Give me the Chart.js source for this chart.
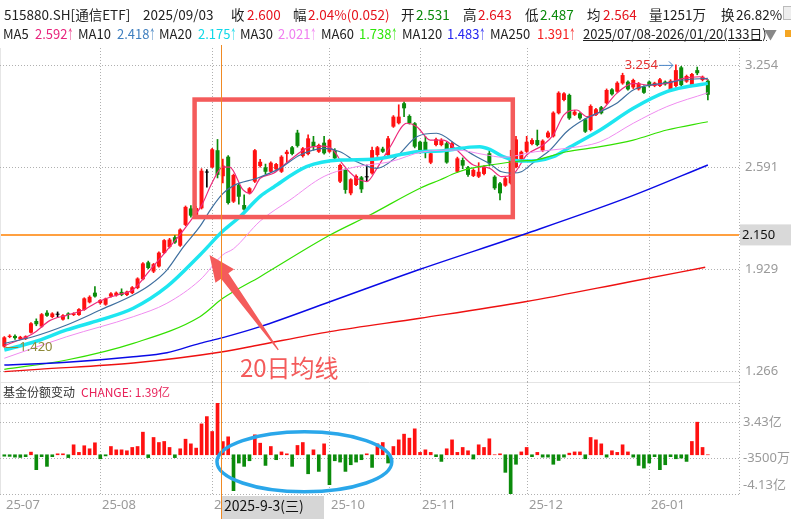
<!DOCTYPE html>
<html>
<head>
<meta charset="utf-8">
<script src="https://cdn.jsdelivr.net/npm/chart.js@4.4.0/dist/chart.umd.min.js"></script>
<style>
  body { margin: 0; background: #fff; }
  #wrap { position: relative; width: 791px; height: 519px; overflow: hidden; font-family: "Noto Sans CJK SC", "Noto Sans", sans-serif; }
  canvas { position: absolute; left: 0; }
  .t { position: absolute; white-space: nowrap; font-size: 13.5px; line-height: 18px; color: #222; z-index: 2; }
  .r2 { font-size: 13px; }
  .red { color: #e6141e; }
  .grn { color: #0a8a0a; }
  .ar { display: inline-block; width: 6px; transform: scaleX(0.5); transform-origin: left center; }
</style>
</head>
<body>
<div id="wrap">
  <canvas id="price" width="791" height="382" style="top:0"></canvas>
  <canvas id="flow" width="791" height="137" style="top:382px"></canvas>

  <!-- header row 1 -->
  <div class="t" style="left:4px;top:5px">515880.SH[通信ETF]</div>
  <div class="t" style="left:143px;top:5px">2025/09/03</div>
  <div class="t" style="left:231px;top:5px">收</div><div class="t red" style="left:247px;top:5px">2.600</div>
  <div class="t" style="left:293px;top:5px">幅</div><div class="t red" style="left:308px;top:5px">2.04%(0.052)</div>
  <div class="t" style="left:401px;top:5px">开</div><div class="t grn" style="left:416px;top:5px">2.531</div>
  <div class="t" style="left:463px;top:5px">高</div><div class="t red" style="left:478px;top:5px">2.643</div>
  <div class="t" style="left:525px;top:5px">低</div><div class="t grn" style="left:540px;top:5px">2.487</div>
  <div class="t" style="left:587px;top:5px">均</div><div class="t red" style="left:603px;top:5px">2.564</div>
  <div class="t" style="left:649px;top:5px">量1251万</div>
  <div class="t" style="left:721px;top:5px">换</div><div class="t" style="left:736px;top:5px">26.82%</div>
  <div style="position:absolute;left:783px;top:6px;width:8px;height:12px;border:1px solid #bbb;background:#eee;z-index:2"></div>

  <!-- header row 2 -->
  <div class="t r2" style="left:3px;top:25px">MA5</div><div class="t r2" style="left:35px;top:25px;color:#e8257d">2.592<span class="ar">↑</span></div>
  <div class="t r2" style="left:78px;top:25px">MA10</div><div class="t r2" style="left:117px;top:25px;color:#3f7fbf">2.418<span class="ar">↑</span></div>
  <div class="t r2" style="left:159px;top:25px">MA20</div><div class="t r2" style="left:198px;top:25px;color:#10d8e8">2.175<span class="ar">↑</span></div>
  <div class="t r2" style="left:240px;top:25px">MA30</div><div class="t r2" style="left:278px;top:25px;color:#f07ef0">2.021<span class="ar">↑</span></div>
  <div class="t r2" style="left:321px;top:25px">MA60</div><div class="t r2" style="left:359px;top:25px;color:#2ee60a">1.738<span class="ar">↑</span></div>
  <div class="t r2" style="left:402px;top:25px">MA120</div><div class="t r2" style="left:447px;top:25px;color:#2525f0">1.483<span class="ar">↑</span></div>
  <div class="t r2" style="left:490px;top:25px">MA250</div><div class="t r2" style="left:537px;top:25px;color:#f52020">1.391<span class="ar">↑</span></div>
  <div class="t r2" style="left:583px;top:25px;text-decoration:underline">2025/07/08-2026/01/20(133日)</div>
  <div class="t r2" style="left:764px;top:25px;color:#888">▼</div>
  <div style="position:absolute;left:785px;top:30px;width:6px;height:7px;background:#f5a623;z-index:2"></div>

  <!-- lower panel title -->
  <div class="t" style="left:3px;top:384px;font-size:12px;line-height:16px;color:#333">基金份额变动</div>
  <div class="t" style="left:81px;top:384px;font-size:12px;line-height:16px;color:#e8225a">CHANGE: 1.39亿</div>
</div>

<script>
// ---- daily candles, 2025-07-08 .. 2026-01-20 (133 trading days) ----
const open = [
  1.425, 1.487, 1.494, 1.474, 1.474, 1.515, 1.591, 1.555, 1.645, 1.617,
  1.632, 1.600, 1.640, 1.630, 1.630, 1.663, 1.712, 1.775, 1.707, 1.697,
  1.750, 1.757, 1.780, 1.760, 1.772, 1.805, 1.862, 1.972, 1.912, 1.945,
  2.032, 2.072, 2.135, 2.080, 2.215, 2.322, 2.280, 2.323, 2.555, 2.589,
  2.700, 2.531, 2.658, 2.366, 2.474, 2.344, 2.420, 2.496, 2.597, 2.589,
  2.560, 2.576, 2.560, 2.675, 2.719, 2.814, 2.662, 2.675, 2.755, 2.690,
  2.749, 2.690, 2.701, 2.496, 2.572, 2.420, 2.474, 2.524, 2.524, 2.550,
  2.669, 2.710, 2.669, 2.853, 2.875, 3.005, 2.922, 2.875, 2.755, 2.755,
  2.619, 2.734, 2.734, 2.745, 2.712, 2.560, 2.636, 2.589, 2.533, 2.528,
  2.546, 2.680, 2.528, 2.485, 2.470, 2.485, 2.590, 2.641, 2.690, 2.740,
  2.766, 2.697, 2.784, 2.790, 2.940, 3.026, 3.059, 2.930, 2.940, 2.901,
  2.831, 2.929, 2.979, 3.005, 3.095, 3.080, 3.134, 3.145, 3.108, 3.095,
  3.112, 3.145, 3.117, 3.117, 3.145, 3.095, 3.117, 3.238, 3.145, 3.117,
  3.220, 3.156, 3.151
];
const high = [
  1.490, 1.502, 1.502, 1.492, 1.495, 1.580, 1.605, 1.640, 1.658, 1.645,
  1.650, 1.632, 1.645, 1.645, 1.672, 1.742, 1.755, 1.815, 1.730, 1.740,
  1.775, 1.780, 1.800, 1.786, 1.815, 1.872, 1.970, 1.980, 1.965, 2.040,
  2.120, 2.128, 2.145, 2.190, 2.338, 2.340, 2.335, 2.580, 2.575, 2.712,
  2.770, 2.643, 2.665, 2.545, 2.480, 2.410, 2.458, 2.705, 2.640, 2.610,
  2.625, 2.615, 2.665, 2.700, 2.725, 2.830, 2.718, 2.800, 2.790, 2.740,
  2.790, 2.770, 2.710, 2.610, 2.580, 2.515, 2.540, 2.530, 2.604, 2.720,
  2.725, 2.720, 2.790, 2.925, 2.995, 3.015, 2.930, 2.880, 2.760, 2.790,
  2.690, 2.778, 2.775, 2.752, 2.752, 2.655, 2.650, 2.595, 2.580, 2.619,
  2.600, 2.695, 2.535, 2.492, 2.525, 2.700, 2.790, 2.695, 2.790, 2.775,
  2.831, 2.768, 2.825, 2.950, 3.080, 3.075, 3.065, 2.960, 2.945, 2.905,
  2.995, 2.972, 2.985, 3.098, 3.100, 3.145, 3.200, 3.150, 3.162, 3.140,
  3.118, 3.150, 3.142, 3.166, 3.150, 3.158, 3.254, 3.245, 3.188, 3.200,
  3.240, 3.182, 3.158
];
const low = [
  1.420, 1.482, 1.472, 1.470, 1.470, 1.512, 1.560, 1.550, 1.620, 1.612,
  1.615, 1.596, 1.605, 1.626, 1.628, 1.660, 1.708, 1.745, 1.700, 1.693,
  1.745, 1.752, 1.755, 1.756, 1.768, 1.800, 1.858, 1.930, 1.905, 1.940,
  2.028, 2.065, 2.095, 2.075, 2.210, 2.265, 2.270, 2.318, 2.460, 2.585,
  2.520, 2.487, 2.350, 2.360, 2.350, 2.310, 2.415, 2.490, 2.590, 2.545,
  2.555, 2.570, 2.555, 2.620, 2.670, 2.720, 2.655, 2.670, 2.700, 2.685,
  2.675, 2.685, 2.640, 2.490, 2.420, 2.410, 2.470, 2.425, 2.500, 2.545,
  2.660, 2.685, 2.660, 2.848, 2.870, 2.918, 2.870, 2.715, 2.680, 2.650,
  2.612, 2.728, 2.728, 2.615, 2.705, 2.555, 2.580, 2.530, 2.528, 2.522,
  2.540, 2.598, 2.445, 2.377, 2.465, 2.480, 2.585, 2.636, 2.685, 2.735,
  2.728, 2.690, 2.780, 2.785, 2.935, 3.020, 2.900, 2.925, 2.900, 2.815,
  2.825, 2.925, 2.935, 3.000, 3.058, 3.075, 3.128, 3.090, 3.100, 3.090,
  3.068, 3.110, 3.112, 3.112, 3.122, 3.090, 3.110, 3.118, 3.140, 3.112,
  3.190, 3.150, 3.026
];
const close = [
  1.485, 1.495, 1.480, 1.488, 1.492, 1.576, 1.570, 1.635, 1.625, 1.640,
  1.632, 1.628, 1.630, 1.640, 1.668, 1.738, 1.748, 1.750, 1.727, 1.737,
  1.770, 1.775, 1.760, 1.782, 1.810, 1.867, 1.965, 1.935, 1.960, 2.035,
  2.116, 2.120, 2.100, 2.185, 2.332, 2.275, 2.325, 2.567, 2.555, 2.706,
  2.540, 2.600, 2.357, 2.539, 2.398, 2.315, 2.453, 2.700, 2.625, 2.560,
  2.619, 2.610, 2.658, 2.690, 2.676, 2.728, 2.712, 2.777, 2.723, 2.734,
  2.680, 2.766, 2.647, 2.604, 2.442, 2.511, 2.533, 2.446, 2.524, 2.701,
  2.719, 2.690, 2.777, 2.918, 2.918, 2.972, 2.876, 2.723, 2.690, 2.701,
  2.680, 2.771, 2.766, 2.620, 2.745, 2.647, 2.600, 2.540, 2.572, 2.560,
  2.593, 2.615, 2.453, 2.420, 2.518, 2.636, 2.770, 2.690, 2.755, 2.766,
  2.734, 2.762, 2.815, 2.944, 3.073, 3.069, 2.907, 2.950, 2.907, 2.820,
  2.987, 2.966, 2.940, 3.091, 3.063, 3.138, 3.188, 3.095, 3.156, 3.134,
  3.073, 3.117, 3.138, 3.160, 3.128, 3.151, 3.220, 3.123, 3.182, 3.195,
  3.200, 3.177, 3.060
];

// fund share change, 亿
const flow = [
  -0.15, -0.17, -0.25, -0.28, -0.20, 0.28, -1.57, -0.20, -1.22, -0.20,
  0.10, 0.10, -0.30, 1.05, 0.25, 0.95, 0.63, 1.26, -0.42, -0.12,
  0.87, 0.52, 0.52, 0.42, 0.77, 0.87, 2.38, -0.30, 1.82, 1.29,
  1.40, 0.77, -0.30, 0.63, 1.64, 1.15, 0.70, 3.25, 4.02, 2.45,
  5.45, 1.39, 1.89, -3.78, -0.87, -1.22, -0.63, 2.10, 1.22, -1.12,
  0.87, -0.52, 0.30, 0.10, -1.22, 0.98, 1.29, -2.00, 0.52, -1.75,
  1.15, -3.15, -0.63, -0.77, -1.75, -1.05, -0.77, -0.52, 0.10, -1.33,
  1.15, 1.29, -0.87, 0.87, 1.57, 2.17, 1.75, 2.73, 0.25, 0.52,
  0.25, -0.20, -0.70, 0.63, 1.57, 0.25, 0.77, 0.42, -0.45, 1.05,
  0.77, 1.68, 0.00, 0.10, -1.85, -4.13, -1.00, 0.30, 0.77, -0.20,
  0.25, -0.25, -0.25, -1.00, -0.60, -0.25, 0.17, 0.30, 0.30, -0.42,
  1.82, 1.57, 1.15, -0.25, 0.42, 0.25, 1.05, 0.30, -0.25, -1.12,
  -1.40, -0.87, -0.20, -1.57, -1.05, -0.20, -0.42, -0.35, -0.70, 1.40,
  3.43, 0.77, 0.00
];

// moving averages (day index, value)
const ma5X = [0, 5.4, 8.6, 11.7, 14.8, 18, 21.1, 24.2, 27.3, 30.5, 33.6, 35, 37, 39, 41, 42.3, 44.8, 46.1, 48, 50.5, 53.6, 56.7, 59.9, 61.7, 63.6, 66.1, 68, 69.9, 72.4, 75.5, 77.4, 79.9, 82.4, 84.9, 88, 91.1, 93.3, 95.5, 98, 101.1, 103, 105, 107.4, 109.3, 111.8, 114.9, 118, 121.1, 124.3, 127.4, 130.5, 132];
const ma5Y = [1.430, 1.510, 1.595, 1.628, 1.662, 1.722, 1.760, 1.795, 1.920, 2.050, 2.180, 2.245, 2.340, 2.490, 2.592, 2.590, 2.442, 2.420, 2.518, 2.550, 2.636, 2.712, 2.727, 2.701, 2.604, 2.518, 2.496, 2.582, 2.723, 2.875, 2.853, 2.766, 2.766, 2.701, 2.604, 2.582, 2.528, 2.545, 2.669, 2.734, 2.800, 2.930, 2.961, 2.918, 2.950, 3.069, 3.134, 3.123, 3.134, 3.167, 3.177, 3.156];
const ma10X = [0, 5.4, 11.7, 18, 24.2, 27.3, 30.5, 33.6, 36.7, 39, 41, 43, 47.4, 51.7, 55.5, 59.9, 63, 66.1, 69.9, 73.6, 77.4, 81.1, 84.9, 88.6, 91.1, 93.3, 95.5, 97, 99.6, 102.4, 105.5, 108.6, 111.8, 114.9, 118, 121.1, 124.3, 127.4, 132];
const ma10Y = [1.446, 1.489, 1.565, 1.662, 1.760, 1.825, 1.922, 2.073, 2.205, 2.330, 2.418, 2.470, 2.518, 2.582, 2.669, 2.712, 2.690, 2.625, 2.582, 2.658, 2.788, 2.810, 2.734, 2.658, 2.612, 2.560, 2.552, 2.560, 2.630, 2.701, 2.820, 2.896, 2.950, 3.005, 3.091, 3.123, 3.138, 3.156, 3.167];
const ma20X = [0, 5.4, 11.7, 18, 24.2, 30.5, 36.7, 41, 44.2, 48, 50.5, 56.7, 63, 69.2, 74.9, 77.4, 82.4, 87.4, 89.2, 91.1, 93.6, 96.8, 99.9, 103, 106.1, 111.8, 118, 124.3, 128, 132];
const ma20Y = [1.403, 1.453, 1.533, 1.598, 1.674, 1.814, 2.020, 2.175, 2.268, 2.400, 2.460, 2.593, 2.636, 2.641, 2.675, 2.690, 2.697, 2.720, 2.723, 2.705, 2.658, 2.630, 2.632, 2.658, 2.720, 2.831, 2.972, 3.080, 3.112, 3.134];
const ma30X = [0, 11.7, 24.2, 30.5, 36.7, 41, 43, 48, 53.6, 60, 66.1, 72.4, 78.6, 84.9, 90, 93.6, 99.6, 105.5, 111.8, 118, 124.3, 132];
const ma30Y = [1.349, 1.489, 1.619, 1.706, 1.857, 2.021, 2.060, 2.240, 2.377, 2.530, 2.593, 2.625, 2.690, 2.701, 2.672, 2.654, 2.690, 2.712, 2.755, 2.875, 2.983, 3.073];
const ma60X = [0, 11.7, 24.2, 36.7, 41, 48, 61.1, 68.6, 78, 81.7, 84.9, 87.4, 91.1, 96.8, 99.6, 105.5, 111.8, 118, 124.3, 132];
const ma60Y = [1.277, 1.338, 1.446, 1.619, 1.738, 1.879, 2.149, 2.279, 2.453, 2.507, 2.555, 2.582, 2.604, 2.630, 2.636, 2.690, 2.723, 2.766, 2.831, 2.885];
const ma120X = [0, 11.7, 24.2, 30.5, 36.7, 41, 48, 61.1, 78, 97.7, 117.4, 132];
const ma120Y = [1.305, 1.323, 1.359, 1.385, 1.446, 1.483, 1.554, 1.716, 1.927, 2.156, 2.398, 2.604];
const ma250X = [0, 6.3, 24.2, 41, 48, 61.1, 78, 97.7, 117.4, 131.5];
const ma250Y = [1.262, 1.277, 1.318, 1.391, 1.437, 1.522, 1.609, 1.716, 1.846, 1.940];

// axes
const monthIdx = [0, 18, 39, 61, 78, 98, 121];
const monthLabels = ['25-07', '25-08', '25-09', '25-10', '25-11', '25-12', '26-01'];
const priceTicks = [3.254, 2.591, 1.929, 1.266];
const flowGrid = [5.45, 3.43, -0.35, -4.13];
const flowTicks = [3.43, -0.35, -4.13];
const flowTickLabels = ['3.43亿', '-3500万', '-4.13亿'];
const markLine = 2.150;
const pickIdx = 41;
const pickLabel = '2025-9-3(三)';

const RED = '#ff1111', GREEN = '#0b8b0b';
const days = open.map((_, i) => i);
const candleColor = days.map(i => close[i] > open[i] ? RED : close[i] < open[i] ? GREEN : '#000000');

const xRange = { type: 'linear', min: -0.81, max: 137.84, offset: false, display: false };

function maLine(xs, ys, color, width, order) {
  return {
    type: 'line',
    data: xs.map((v, k) => ({ x: v, y: ys[k] })),
    borderColor: color,
    borderWidth: width,
    pointRadius: 0,
    cubicInterpolationMode: 'monotone',
    order: order
  };
}

function dottedLine(ctx, x1, y1, x2, y2) {
  ctx.moveTo(x1, y1);
  ctx.lineTo(x2, y2);
}

// Price panel overlay: grid, marked line, annotations
const pricePlugin = {
  id: 'pricePlugin',
  beforeDatasetsDraw(chart) {
    const { ctx, chartArea: a, scales: { x, y } } = chart;
    ctx.save();
    // left border
    ctx.strokeStyle = '#e6e6e6';
    ctx.lineWidth = 1;
    ctx.beginPath();
    ctx.moveTo(0.5, a.top);
    ctx.lineTo(0.5, chart.height);
    ctx.stroke();

    ctx.strokeStyle = '#b0b0b0';
    ctx.setLineDash([1, 2]);
    ctx.beginPath();
    monthIdx.slice(1).forEach(i => {
      const px = Math.round(x.getPixelForValue(i)) + 0.5;
      dottedLine(ctx, px, a.top, px, chart.height);
    });
    dottedLine(ctx, a.right + 0.5, a.top, a.right + 0.5, chart.height);
    priceTicks.forEach(v => {
      const py = Math.round(y.getPixelForValue(v)) + 0.5;
      dottedLine(ctx, 0, py, a.right, py);
    });
    ctx.stroke();
    ctx.setLineDash([]);

    // user drawn horizontal line
    const my = Math.round(y.getPixelForValue(markLine));
    ctx.strokeStyle = '#ff8000';
    ctx.lineWidth = 1.6;
    ctx.beginPath();
    ctx.moveTo(1, my);
    ctx.lineTo(a.right, my);
    ctx.stroke();
    ctx.restore();
  },
  afterDatasetsDraw(chart) {
    const { ctx, chartArea: a, scales: { x, y } } = chart;
    ctx.save();

    // red frame
    const bx1 = x.getPixelForValue(35.7), bx2 = x.getPixelForValue(95.4);
    const by1 = y.getPixelForValue(3.029), by2 = y.getPixelForValue(2.266);
    ctx.strokeStyle = '#f45b5b';
    ctx.lineWidth = 4.5;
    ctx.strokeRect(bx1, by1, bx2 - bx1, by2 - by1);

    // tapered arrow pointing at MA20
    const tx = x.getPixelForValue(38.5), ty = y.getPixelForValue(2.020);
    const sx = x.getPixelForValue(51.4), sy = y.getPixelForValue(1.403);
    const len = Math.hypot(tx - sx, ty - sy);
    const ux = (tx - sx) / len, uy = (ty - sy) / len;
    const nx = -uy, ny = ux;
    const hl = 26, hw = 11.5, sw = 4.5, tw = 0.6;
    const bxh = tx - ux * hl, byh = ty - uy * hl;
    ctx.fillStyle = '#f45b5b';
    ctx.beginPath();
    ctx.moveTo(tx, ty);
    ctx.lineTo(bxh + nx * hw, byh + ny * hw);
    ctx.lineTo(bxh + nx * sw, byh + ny * sw);
    ctx.lineTo(sx + nx * tw, sy + ny * tw);
    ctx.lineTo(sx - nx * tw, sy - ny * tw);
    ctx.lineTo(bxh - nx * sw, byh - ny * sw);
    ctx.lineTo(bxh - nx * hw, byh - ny * hw);
    ctx.closePath();
    ctx.fill();

    ctx.font = '24px "Noto Sans CJK SC", sans-serif';
    ctx.textBaseline = 'middle';
    ctx.textAlign = 'left';
    ctx.fillText('20日均线', x.getPixelForValue(44.2), y.getPixelForValue(1.286));

    // crosshair
    const cx = Math.floor(x.getPixelForValue(pickIdx)) - 0.5;
    ctx.strokeStyle = '#f08a24';
    ctx.lineWidth = 1;
    ctx.beginPath();
    ctx.moveTo(cx, a.top - 3);
    ctx.lineTo(cx, chart.height);
    ctx.stroke();

    // highest / lowest marks
    let hi = 0, lo = 0;
    days.forEach(i => { if (high[i] > high[hi]) hi = i; if (low[i] < low[lo]) lo = i; });
    const hx = x.getPixelForValue(hi), hy = y.getPixelForValue(high[hi]);
    ctx.font = '13px "Noto Sans", sans-serif';
    ctx.fillStyle = '#e53030';
    ctx.textAlign = 'right';
    ctx.fillText(high[hi].toFixed(3), hx - 18, hy);
    ctx.strokeStyle = '#4a86c8';
    ctx.beginPath();
    ctx.moveTo(hx - 17, hy + 0.5);
    ctx.lineTo(hx - 3, hy + 0.5);
    ctx.moveTo(hx - 7, hy - 3.5);
    ctx.lineTo(hx - 3, hy + 0.5);
    ctx.lineTo(hx - 7, hy + 4.5);
    ctx.stroke();

    const lx = x.getPixelForValue(lo), ly = y.getPixelForValue(low[lo]);
    ctx.strokeStyle = '#8f8a3a';
    ctx.beginPath();
    ctx.moveTo(lx + 1, Math.round(ly) + 0.5);
    ctx.lineTo(lx + 14, Math.round(ly) + 0.5);
    ctx.stroke();
    ctx.fillStyle = '#8f8a3a';
    ctx.textAlign = 'left';
    ctx.fillText(low[lo].toFixed(3), lx + 15, ly);

    // right axis labels
    ctx.fillStyle = '#9a9a9a';
    priceTicks.forEach(v => ctx.fillText(v.toFixed(3), a.right + 6, y.getPixelForValue(v)));
    const my = y.getPixelForValue(markLine);
    ctx.fillStyle = '#d9d9d9';
    ctx.fillRect(a.right + 1, my - 10.5, chart.width - a.right, 21);
    ctx.fillStyle = '#111';
    ctx.fillText(markLine.toFixed(3), a.right + 3, my);
    ctx.restore();
  }
};

// Fund flow panel overlay
const flowPlugin = {
  id: 'flowPlugin',
  beforeDatasetsDraw(chart) {
    const { ctx, chartArea: a, scales: { x, y } } = chart;
    ctx.save();
    ctx.strokeStyle = '#e4e4e4';
    ctx.beginPath();
    ctx.moveTo(0, 0.5);
    ctx.lineTo(a.right, 0.5);
    ctx.moveTo(0.5, 0);
    ctx.lineTo(0.5, a.bottom);
    ctx.stroke();
    ctx.strokeStyle = '#b0b0b0';
    ctx.setLineDash([1, 2]);
    ctx.beginPath();
    monthIdx.slice(1).forEach(i => {
      const px = Math.round(x.getPixelForValue(i)) + 0.5;
      dottedLine(ctx, px, 0, px, a.bottom);
    });
    dottedLine(ctx, a.right + 0.5, 0, a.right + 0.5, a.bottom);
    flowGrid.forEach(v => {
      const py = Math.round(y.getPixelForValue(v)) + 0.5;
      dottedLine(ctx, 0, py, a.right, py);
    });
    ctx.stroke();
    ctx.restore();
  },
  afterDatasetsDraw(chart) {
    const { ctx, chartArea: a, scales: { x, y } } = chart;
    ctx.save();

    // blue ring
    const ex = x.getPixelForValue(56.3), ey = y.getPixelForValue(-0.74);
    const rx = x.getPixelForValue(56.3 + 16.4) - ex;
    const ry = y.getPixelForValue(-0.74 - 3.16) - ey;
    ctx.strokeStyle = '#2aa7ea';
    ctx.lineWidth = 3.5;
    ctx.beginPath();
    ctx.ellipse(ex, ey, rx, ry, 0, 0, Math.PI * 2);
    ctx.stroke();

    // crosshair
    const cx = Math.floor(x.getPixelForValue(pickIdx)) - 0.5;
    ctx.strokeStyle = '#f08a24';
    ctx.lineWidth = 1;
    ctx.beginPath();
    ctx.moveTo(cx, 0);
    ctx.lineTo(cx, chart.height);
    ctx.stroke();

    // right axis labels
    ctx.font = '13px "Noto Sans", "Noto Sans CJK SC", sans-serif';
    ctx.fillStyle = '#9a9a9a';
    ctx.textBaseline = 'middle';
    ctx.textAlign = 'left';
    flowTicks.forEach((v, k) => {
      const py = Math.min(y.getPixelForValue(v), a.bottom - 9);
      ctx.fillText(flowTickLabels[k], a.right + 4, py);
    });

    // month labels
    monthIdx.forEach((i, k) => {
      ctx.fillText(monthLabels[k], Math.round(x.getPixelForValue(i)) + 2, a.bottom + 11);
    });

    // date tag under the crosshair
    ctx.fillStyle = '#d6d6d6';
    ctx.fillRect(cx + 0.5, a.bottom + 2, 102, chart.height - a.bottom - 2);
    ctx.fillStyle = '#111';
    ctx.font = '14px "Noto Sans CJK SC", sans-serif';
    ctx.fillText(pickLabel, cx + 2.5, a.bottom + 12);
    ctx.restore();
  }
};

new Chart(document.getElementById('price'), {
  type: 'bar',
  data: {
    datasets: [
      {
        data: days.map(i => ({ x: i, y: [low[i], high[i]] })),
        backgroundColor: candleColor,
        grouped: false,
        categoryPercentage: 1,
        barPercentage: 1,
        maxBarThickness: 1,
        order: 21
      },
      {
        data: days.map(i => ({ x: i, y: [open[i], close[i]] })),
        backgroundColor: candleColor,
        grouped: false,
        categoryPercentage: 1,
        barPercentage: 0.8,
        maxBarThickness: 4,
        minBarLength: 1,
        order: 20
      },
      maLine(ma5X, ma5Y, '#ee2a7b', 1.2, 7),
      maLine(ma10X, ma10Y, '#3f6f9f', 1.2, 6),
      maLine(ma20X, ma20Y, '#1ee6f0', 3.5, 5),
      maLine(ma30X, ma30Y, '#f08cf0', 1, 4),
      maLine(ma60X, ma60Y, '#33e000', 1.2, 3),
      maLine(ma120X, ma120Y, '#0a0ae6', 1.4, 2),
      maLine(ma250X, ma250Y, '#ee1111', 1.4, 1)
    ]
  },
  options: {
    responsive: false,
    animation: false,
    events: [],
    layout: { padding: { left: 0, right: 52, top: 48, bottom: 2 } },
    scales: {
      x: xRange,
      y: { type: 'linear', min: 1.2079, max: 3.3637, display: false }
    },
    plugins: { legend: { display: false }, tooltip: { enabled: false } }
  },
  plugins: [pricePlugin]
});

new Chart(document.getElementById('flow'), {
  type: 'bar',
  data: {
    datasets: [{
      data: days.map(i => ({ x: i, y: flow[i] })),
      backgroundColor: flow.map(v => v >= 0 ? RED : GREEN),
      barThickness: 3
    }]
  },
  options: {
    responsive: false,
    animation: false,
    events: [],
    layout: { padding: { left: 0, right: 52, top: 21, bottom: 25 } },
    scales: {
      x: xRange,
      y: { type: 'linear', min: -4.13, max: 5.45, display: false }
    },
    plugins: { legend: { display: false }, tooltip: { enabled: false } }
  },
  plugins: [flowPlugin]
});
</script>
</body>
</html>
